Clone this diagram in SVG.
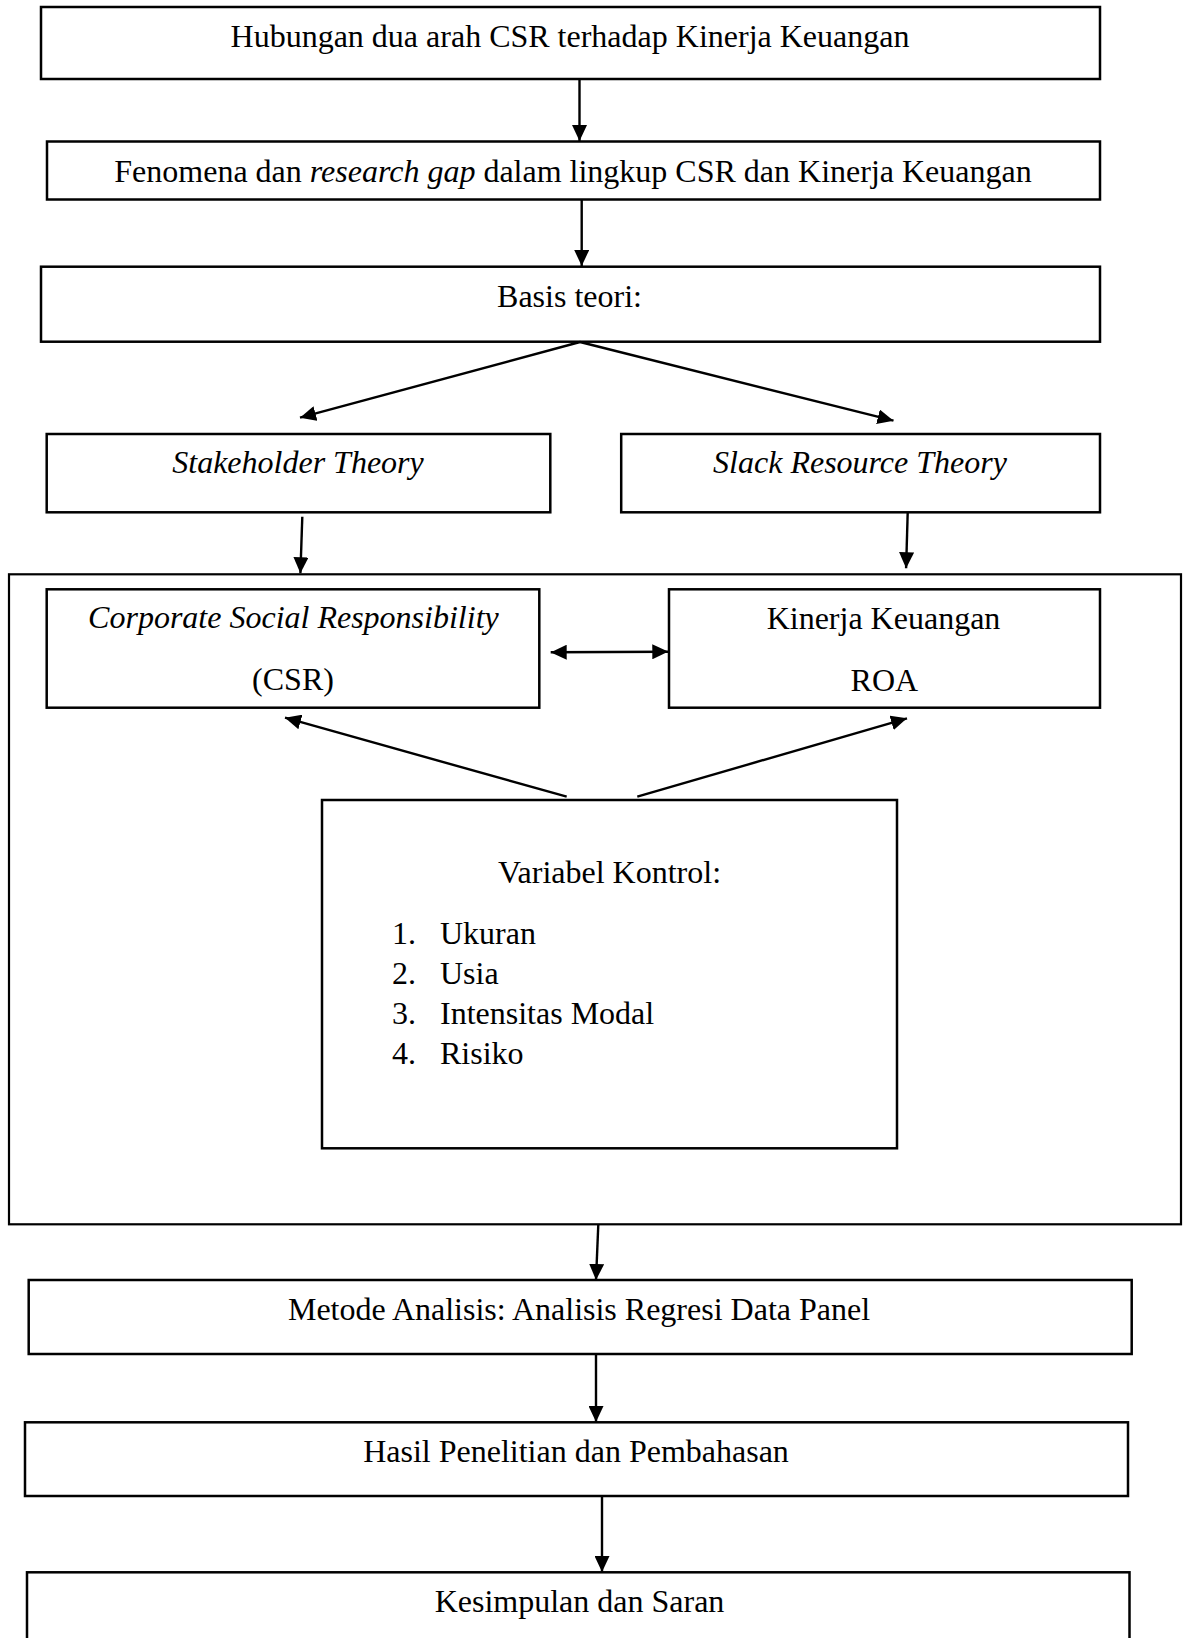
<svg xmlns="http://www.w3.org/2000/svg" width="1183" height="1638" viewBox="0 0 1183 1638">
<style>
.box{fill:none;stroke:#000;stroke-width:2.5}
.cont{fill:none;stroke:#000;stroke-width:2.2}
.t{font-family:"Liberation Serif","Times New Roman",serif;font-size:32px;fill:#000}
.c{text-anchor:middle}
.i{font-style:italic}
.ln{stroke:#000;stroke-width:2.4;fill:none}
</style>
<defs>
<marker id="ah" viewBox="0 0 16 15" refX="16" refY="7.5" markerWidth="16" markerHeight="15" markerUnits="userSpaceOnUse" orient="auto-start-reverse">
<path d="M0,0 L16,7.5 L0,15 z" fill="#000"/>
</marker>
</defs>
<rect width="1183" height="1638" fill="#fff"/>
<g id="connectors">
<line class="ln" x1="579.5" y1="79" x2="579.5" y2="141" marker-end="url(#ah)"/>
<line class="ln" x1="581.7" y1="200" x2="581.7" y2="266" marker-end="url(#ah)"/>
<line class="ln" x1="580" y1="342" x2="300" y2="417.7" marker-end="url(#ah)"/>
<line class="ln" x1="580" y1="342" x2="893.5" y2="420.7" marker-end="url(#ah)"/>
<line class="ln" x1="302.3" y1="516.7" x2="300.4" y2="573.3" marker-end="url(#ah)"/>
<line class="ln" x1="907.7" y1="512.5" x2="906.1" y2="568.3" marker-end="url(#ah)"/>
<line class="ln" x1="550.7" y1="652.3" x2="668.3" y2="651.7" marker-start="url(#ah)" marker-end="url(#ah)"/>
<line class="ln" x1="566.7" y1="796.7" x2="285" y2="717.7" marker-end="url(#ah)"/>
<line class="ln" x1="637.3" y1="796.7" x2="907" y2="718.3" marker-end="url(#ah)"/>
<line class="ln" x1="598.3" y1="1224.5" x2="596" y2="1280" marker-end="url(#ah)"/>
<line class="ln" x1="596" y1="1354" x2="596" y2="1422" marker-end="url(#ah)"/>
<line class="ln" x1="602" y1="1496" x2="602" y2="1572" marker-end="url(#ah)"/>
</g>
<g id="n1"><rect class="box" x="41" y="7" width="1059" height="72"/><text class="t c" x="570" y="47">Hubungan dua arah CSR terhadap Kinerja Keuangan</text></g>
<g id="n2"><rect class="box" x="47" y="141.5" width="1053" height="58"/><text class="t c" x="573" y="182">Fenomena dan <tspan class="i">research gap</tspan> dalam lingkup CSR dan Kinerja Keuangan</text></g>
<g id="n3"><rect class="box" x="41" y="266.7" width="1059" height="75"/><text class="t c" x="569.5" y="307">Basis teori:</text></g>
<g id="n4"><rect class="box" x="46.7" y="434" width="503.6" height="78.3"/><text class="t c i" x="298" y="473">Stakeholder Theory</text></g>
<g id="n5"><rect class="box" x="621.2" y="434" width="478.8" height="78.3"/><text class="t c i" x="860" y="473">Slack Resource Theory</text></g>
<g id="n6"><rect class="cont" x="9" y="574.3" width="1172" height="650"/></g>
<g id="n7"><rect class="box" x="46.7" y="589.3" width="492.6" height="118.4"/><text class="t c i" x="293.4" y="628">Corporate Social Responsibility</text><text class="t c" x="293" y="690">(CSR)</text></g>
<g id="n8"><rect class="box" x="669" y="589.3" width="431" height="118.4"/><text class="t c" x="883.5" y="629">Kinerja Keuangan</text><text class="t c" x="884.4" y="691">ROA</text></g>
<g id="n9"><rect class="box" x="322" y="800" width="575" height="348.3"/><text class="t c" x="609.5" y="883">Variabel Kontrol:</text>
<text class="t" x="392" y="944">1.</text><text class="t" x="440" y="944">Ukuran</text>
<text class="t" x="392" y="983.5">2.</text><text class="t" x="440" y="983.5">Usia</text>
<text class="t" x="392" y="1023.5">3.</text><text class="t" x="440" y="1023.5">Intensitas Modal</text>
<text class="t" x="392" y="1064">4.</text><text class="t" x="440" y="1064">Risiko</text></g>
<g id="n10"><rect class="box" x="28.7" y="1280" width="1103" height="74"/><text class="t c" x="579" y="1320">Metode Analisis: Analisis Regresi Data Panel</text></g>
<g id="n11"><rect class="box" x="25" y="1422.3" width="1103" height="73.7"/><text class="t c" x="576" y="1462">Hasil Penelitian dan Pembahasan</text></g>
<g id="n12"><rect class="box" x="27" y="1572.3" width="1102.5" height="100"/><text class="t c" x="579.5" y="1612">Kesimpulan dan Saran</text></g>
</svg>
